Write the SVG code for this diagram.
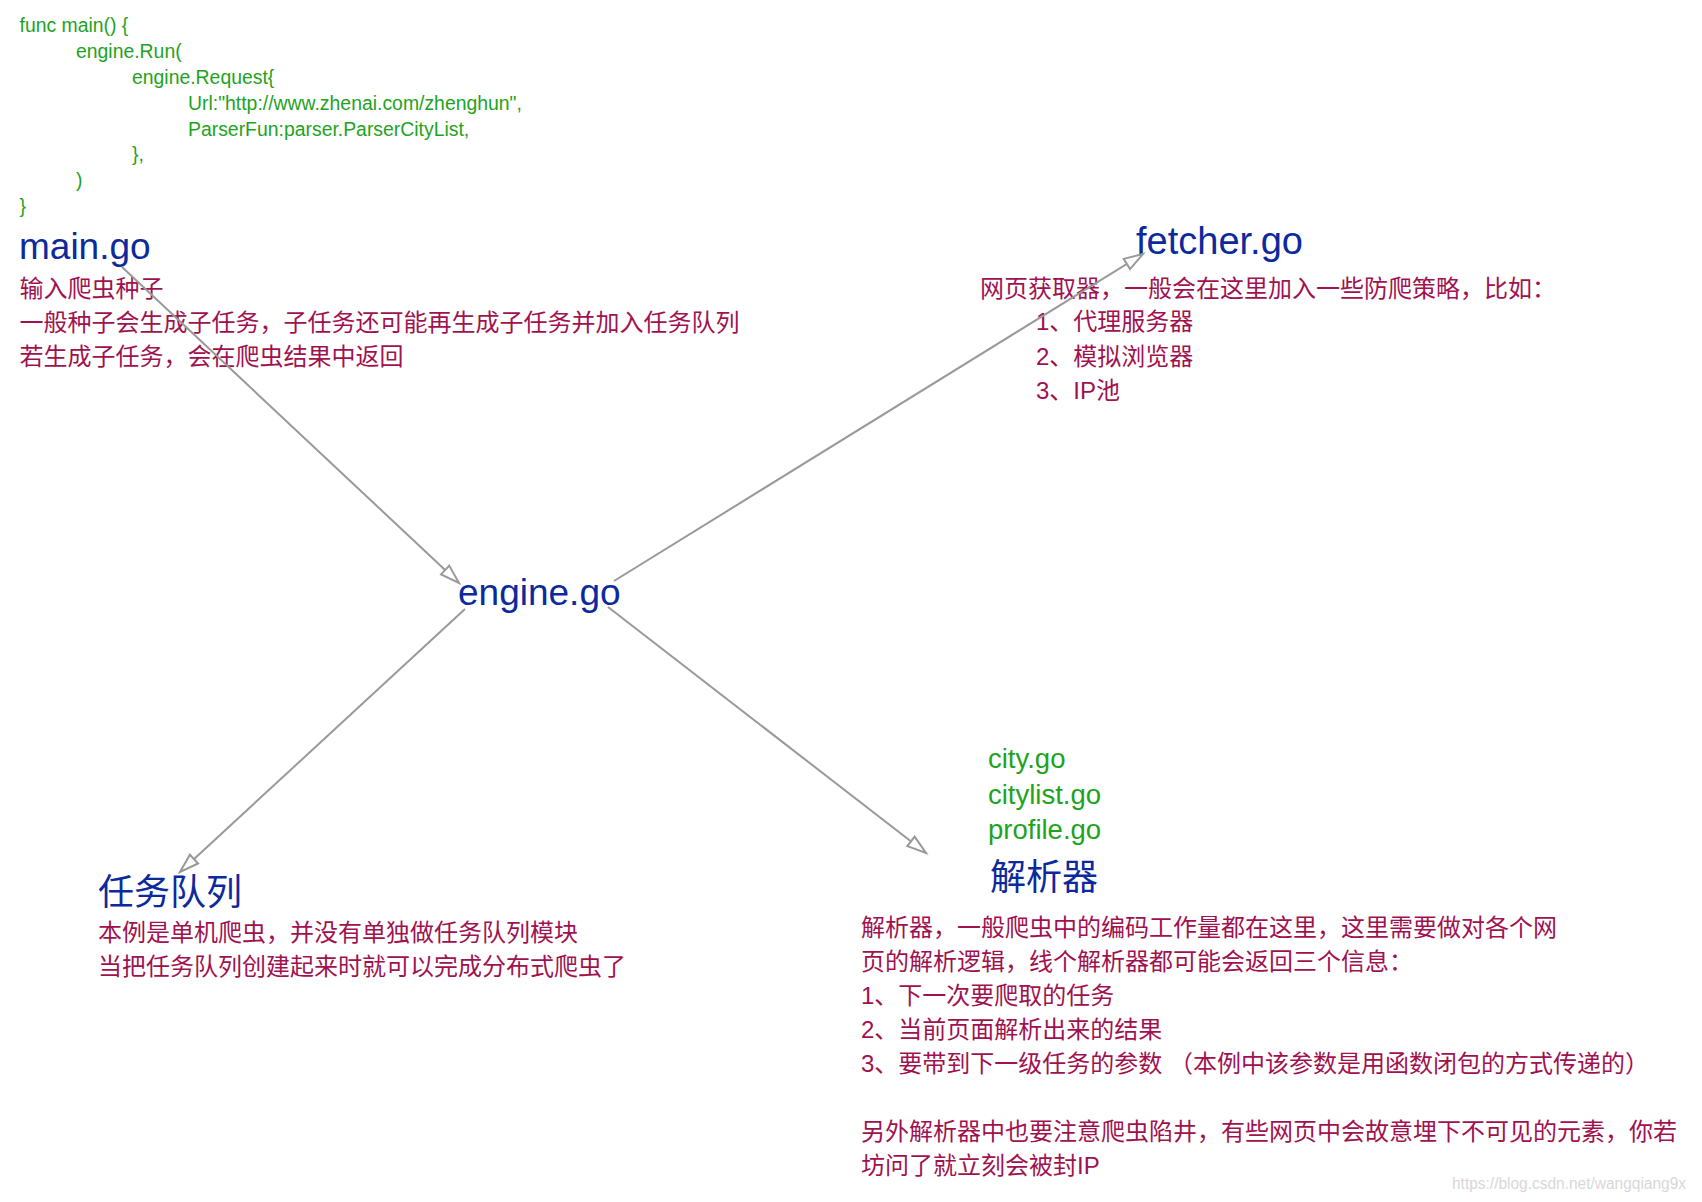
<svg xmlns="http://www.w3.org/2000/svg" width="1702" height="1202" viewBox="0 0 1702 1202">
<defs>
<style>
.code{font-family:"Liberation Sans","Noto Sans",sans-serif;font-size:19.4px;fill:#1ea31e}
.title{font-family:"Liberation Sans","Noto Sans CJK SC",sans-serif;font-size:37px;fill:#0c2a9c}
.ctitle{font-family:"Noto Sans CJK SC",sans-serif;font-size:36px;fill:#0c2a9c}
.desc{font-family:"Liberation Sans","Noto Sans CJK SC",sans-serif;font-size:24px;fill:#a0124f}
.file{font-family:"Liberation Sans","Noto Sans",sans-serif;font-size:27.5px;fill:#1ea31e}
.wm{font-family:"Liberation Sans",sans-serif;font-size:16px;fill:#d8d8d8}
.edge{stroke:#999999;stroke-width:2;fill:none}
</style>
<marker id="arr" markerUnits="userSpaceOnUse" markerWidth="24" markerHeight="16" refX="21" refY="7.5" orient="auto">
<path d="M2,1.5 L21,7.5 L2,13.5 Z" fill="#ffffff" stroke="#999999" stroke-width="2" stroke-linejoin="miter"/>
</marker>
</defs>
<rect width="1702" height="1202" fill="#ffffff"/>

<g id="code">
<text class="code" x="19.5" y="31.5">func main() {</text>
<text class="code" x="76" y="57.5">engine.Run(</text>
<text class="code" x="132" y="83.5">engine.Request{</text>
<text class="code" x="188" y="109.5">Url:"http://www.zhenai.com/zhenghun",</text>
<text class="code" x="188" y="135.5">ParserFun:parser.ParserCityList,</text>
<text class="code" x="132" y="161">},</text>
<text class="code" x="76" y="187">)</text>
<text class="code" x="19.5" y="213">}</text>
</g>

<g id="main">
<text class="title" x="19" y="259">main.go</text>
<text class="desc" x="19.5" y="297">输入爬虫种子</text>
<text class="desc" x="19.5" y="331">一般种子会生成子任务，子任务还可能再生成子任务并加入任务队列</text>
<text class="desc" x="19.5" y="365">若生成子任务，会在爬虫结果中返回</text>
</g>

<g id="fetcher">
<text class="title" x="1136" y="254" style="font-size:38px">fetcher.go</text>
<text class="desc" x="980" y="297">网页获取器，一般会在这里加入一些防爬策略，比如：</text>
<text class="desc" x="1036" y="330">1、代理服务器</text>
<text class="desc" x="1036" y="365">2、模拟浏览器</text>
<text class="desc" x="1036" y="399">3、IP池</text>
</g>

<g id="engine">
<text class="title" x="458" y="605">engine.go</text>
</g>

<g id="queue">
<text class="ctitle" x="98" y="905">任务队列</text>
<text class="desc" x="98" y="941">本例是单机爬虫，并没有单独做任务队列模块</text>
<text class="desc" x="98" y="975">当把任务队列创建起来时就可以完成分布式爬虫了</text>
</g>

<g id="parser">
<text class="file" x="988" y="768">city.go</text>
<text class="file" x="988" y="804">citylist.go</text>
<text class="file" x="988" y="839">profile.go</text>
<text class="ctitle" x="990" y="890">解析器</text>
<text class="desc" x="861" y="936">解析器，一般爬虫中的编码工作量都在这里，这里需要做对各个网</text>
<text class="desc" x="861" y="970">页的解析逻辑，线个解析器都可能会返回三个信息：</text>
<text class="desc" x="861" y="1004">1、下一次要爬取的任务</text>
<text class="desc" x="861" y="1038">2、当前页面解析出来的结果</text>
<text class="desc" x="861" y="1072">3、要带到下一级任务的参数 （本例中该参数是用函数闭包的方式传递的）</text>
<text class="desc" x="861" y="1140">另外解析器中也要注意爬虫陷井，有些网页中会故意埋下不可见的元素，你若</text>
<text class="desc" x="861" y="1174">坊问了就立刻会被封IP</text>
</g>

<g id="connectors">
<line class="edge" x1="122" y1="267" x2="459" y2="583" marker-end="url(#arr)"/>
<line class="edge" x1="614" y1="581" x2="1143" y2="254" marker-end="url(#arr)"/>
<line class="edge" x1="465" y1="609" x2="180" y2="872" marker-end="url(#arr)"/>
<line class="edge" x1="608" y1="607" x2="926" y2="853" marker-end="url(#arr)"/>
</g>

<text class="wm" x="1452" y="1189" textLength="234" lengthAdjust="spacingAndGlyphs">https://blog.csdn.net/wangqiang9x</text>
</svg>
